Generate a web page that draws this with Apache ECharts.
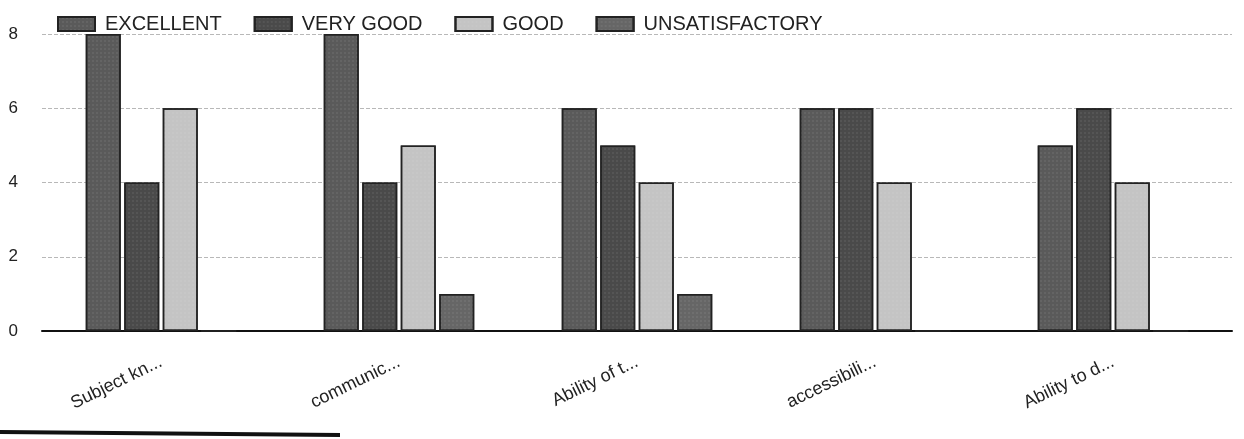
<!DOCTYPE html>
<html>
<head>
<meta charset="utf-8">
<script src="https://cdn.jsdelivr.net/npm/echarts@6/dist/echarts.min.js"></script>
<style>
  html, body { margin: 0; padding: 0; background: #fff; }
  #chart { width: 1244px; height: 439px; }
</style>
</head>
<body>
<div id="chart"></div>
<script>
const categories = ['Subject kn...', 'communic...', 'Ability of t...', 'accessibili...', 'Ability to d...'];
const excellent = [8, 8, 6, 6, 5];
const veryGood = [4, 4, 5, 6, 6];
const good = [6, 5, 4, 4, 4];
const unsatisfactory = [0, 1, 1, 0, 0];
const yTicks = [0, 2, 4, 6, 8];

const seriesDefs = [
  { name: 'EXCELLENT', data: excellent, color: '#5a5a5a' },
  { name: 'VERY GOOD', data: veryGood, color: '#4a4a4a' },
  { name: 'GOOD', data: good, color: '#c4c4c4' },
  { name: 'UNSATISFACTORY', data: unsatisfactory, color: '#666666' }
];

const chart = echarts.init(document.getElementById('chart'));
chart.setOption({
  backgroundColor: '#ffffff',
  animation: false,
  textStyle: { fontFamily: 'Liberation Sans, Arial, sans-serif' },
  legend: {
    left: 52,
    top: 9,
    icon: 'rect',
    itemWidth: 37,
    itemHeight: 14,
    itemGap: 32,
    textStyle: { fontSize: 20, color: '#222', padding: [0, 0, 0, 5] },
    data: seriesDefs.map(s => s.name)
  },
  grid: { left: 42, right: 12, top: 34, bottom: 108 },
  xAxis: {
    type: 'category',
    data: categories,
    axisLine: { lineStyle: { color: '#111', width: 2 } },
    axisTick: { show: false },
    axisLabel: { rotate: 26, fontSize: 18, color: '#222', margin: 30 }
  },
  yAxis: {
    type: 'value',
    min: 0,
    max: yTicks[yTicks.length - 1],
    interval: 2,
    axisLine: { show: false },
    axisTick: { show: false },
    axisLabel: { fontSize: 17, color: '#222', margin: 24, formatter: v => yTicks.includes(v) ? String(v) : '' },
    splitLine: { lineStyle: { color: '#b8b8b8', type: 'dashed', width: 1 } }
  },
  graphic: [{
    type: 'line',
    shape: { x1: 0, y1: 432, x2: 340, y2: 435 },
    style: { stroke: '#111', lineWidth: 4 }
  }],
  series: seriesDefs.map(s => ({
    name: s.name,
    type: 'bar',
    data: s.data,
    barWidth: 35,
    barGap: '10%',
    itemStyle: {
      color: s.color,
      borderColor: '#222',
      borderWidth: 1.5,
      decal: {
        symbol: 'rect',
        symbolSize: 0.5,
        dashArrayX: [2, 2],
        dashArrayY: [2, 2],
        color: 'rgba(255,255,255,0.25)'
      }
    }
  }))
});
</script>
</body>
</html>
